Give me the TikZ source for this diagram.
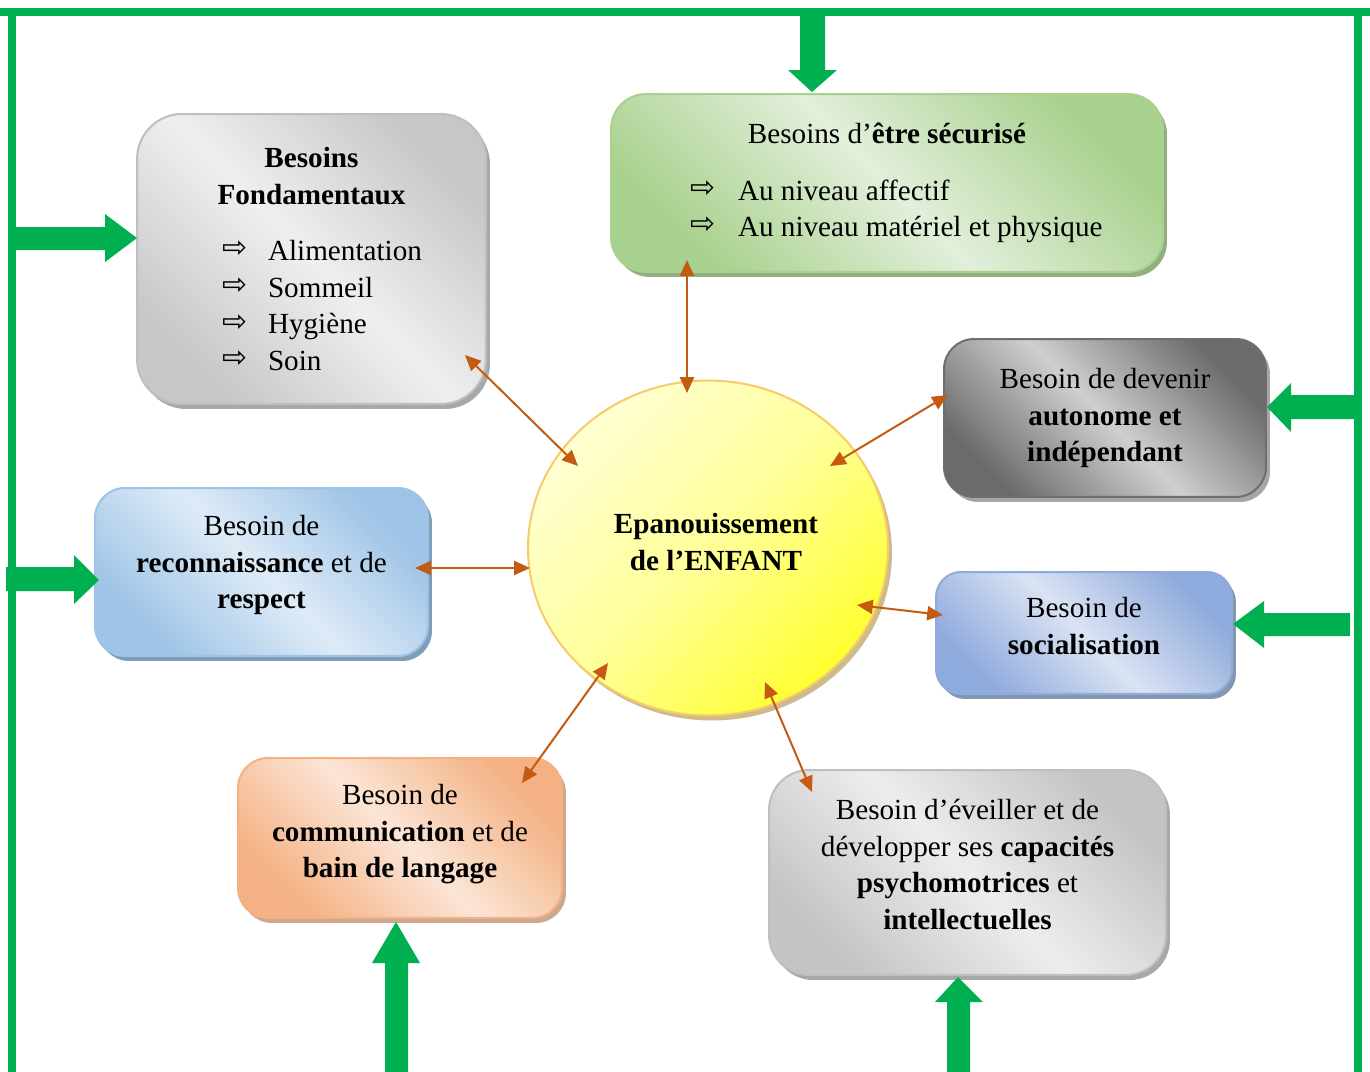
\documentclass[tikz,border=0pt]{standalone}
\usepackage{fontspec}
\setmainfont{Liberation Serif}
\newfontfamily\symfont{DejaVu Sans}
\usetikzlibrary{shapes.geometric,shadows,arrows.meta}
\definecolor{gr}{HTML}{00B050}
\definecolor{rust}{HTML}{C55A11}
\definecolor{fondD}{HTML}{C7C7C7}\definecolor{fondL}{HTML}{EFEFEF}\definecolor{fondB}{HTML}{BFBFBF}\definecolor{fondS}{HTML}{A8A8A8}
\definecolor{secuD}{HTML}{A9D18E}\definecolor{secuL}{HTML}{E2EFDA}\definecolor{secuB}{HTML}{A9D18E}\definecolor{secuS}{HTML}{93AE80}
\definecolor{autoD}{HTML}{6B6B6B}\definecolor{autoL}{HTML}{CFCFCF}\definecolor{autoB}{HTML}{6E6E6E}\definecolor{autoS}{HTML}{A6A6A6}
\definecolor{recoD}{HTML}{9DC3E6}\definecolor{recoL}{HTML}{DEEBF7}\definecolor{recoB}{HTML}{9DC3E6}\definecolor{recoS}{HTML}{7F9DB9}
\definecolor{sociD}{HTML}{8FAADC}\definecolor{sociL}{HTML}{DAE3F3}\definecolor{sociB}{HTML}{8FAADC}\definecolor{sociS}{HTML}{8497B0}
\definecolor{commD}{HTML}{F4B183}\definecolor{commL}{HTML}{FBE5D6}\definecolor{commB}{HTML}{F4B183}\definecolor{commS}{HTML}{CDA890}
\definecolor{eveiD}{HTML}{C4C4C4}\definecolor{eveiL}{HTML}{EDEDED}\definecolor{eveiB}{HTML}{BFBFBF}\definecolor{eveiS}{HTML}{A8A8A8}
\definecolor{cenL}{HTML}{FFFFD2}\definecolor{cenM}{HTML}{FFFF99}\definecolor{cenD}{HTML}{FFFF30}\definecolor{cenB}{HTML}{F8CB6A}\definecolor{cenS}{HTML}{CDBB8A}
\newcommand{\arr}{\raisebox{1.6pt}{\symfont\fontsize{17}{17}\selectfont ⇨}}
\newcommand{\fli}[1]{\makebox[3.58cm][l]{\makebox[0.92cm][l]{\arr}#1}}
\newcommand{\sli}[1]{\makebox[7.88cm][l]{\makebox[0.96cm][l]{\arr}#1}}
\tikzset{
  box/.style={rectangle, inner sep=0pt, align=center,
    font=\fontsize{16.6}{20.8}\selectfont, line width=0.04cm},
  shade3/.style={left color=#1D, right color=#1D, middle color=#1L,
    shading angle=135, draw=#1B,
    drop shadow={shadow xshift=0.08cm, shadow yshift=-0.1cm, fill=#1S, opacity=1}},
  link/.style={rust, line width=0.04cm,
    {Triangle[length=9pt,width=8pt]}-{Triangle[length=9pt,width=8pt]}},
  greenframe/.style={gr, line width=0.16cm},
  garrow/.style={fill=gr},
}
\begin{document}
\begin{tikzpicture}[x=0.02cm,y=-0.02cm]
\useasboundingbox (0,0) rectangle (1370,1072);
\fill[white] (0,0) rectangle (1370,1072);

% frame
\draw[greenframe] (0,12) -- (1370,12);
\draw[greenframe] (12,8) -- (12,1072);
\draw[greenframe] (1358,8) -- (1358,1072);

% boxes
\node[box, shade3=fond,
  minimum width=6.98cm, minimum height=5.8cm, rounded corners=0.9cm]
  (fond) at (311.5,259) {\textbf{Besoins}\\\textbf{Fondamentaux}\\[11.4pt]
  \fli{Alimentation}\\\fli{Sommeil}\\\fli{Hygiène}\\\fli{Soin}};

\node[box, shade3=secu,
  minimum width=11.04cm, minimum height=3.56cm, rounded corners=0.7cm]
  (secu) at (887,183) {Besoins d’\textbf{être sécurisé}\\[11.4pt]
  \sli{Au niveau affectif}\\\sli{Au niveau matériel et physique}};

\node[box, shade3=auto, text depth=3.2pt,
  minimum width=6.44cm, minimum height=3.16cm, rounded corners=0.6cm]
  (auto) at (1105,418) {Besoin de devenir\\\textbf{autonome et}\\\textbf{indépendant}};

\node[box, shade3=reco, text depth=11.5pt,
  minimum width=6.66cm, minimum height=3.36cm, rounded corners=0.6cm]
  (reco) at (261.5,572) {Besoin de\\\textbf{reconnaissance} et de\\\textbf{respect}};

\node[box, shade3=soci, text depth=8pt,
  minimum width=5.92cm, minimum height=2.44cm, rounded corners=0.5cm]
  (soci) at (1084,633) {Besoin de\\\textbf{socialisation}};

\node[box, shade3=comm, text depth=8pt,
  minimum width=6.48cm, minimum height=3.2cm, rounded corners=0.6cm]
  (comm) at (400,838) {Besoin de\\\textbf{communication} et de\\\textbf{bain de langage}};

\node[box, shade3=evei, text depth=9.5pt,
  minimum width=7.94cm, minimum height=4.1cm, rounded corners=0.8cm]
  (evei) at (967.5,872.5) {Besoin d’éveiller et de\\développer ses \textbf{capacités}\\\textbf{psychomotrices} et\\\textbf{intellectuelles}};

% centre
\node[ellipse, inner sep=0pt, align=center, font=\fontsize{16.6}{20.8}\selectfont\bfseries,
  minimum width=7.2cm, minimum height=6.7cm, draw=cenB, line width=0.04cm, text depth=7pt,
  left color=cenL, right color=cenD, middle color=cenM, shading angle=45,
  drop shadow={shadow xshift=0.08cm, shadow yshift=-0.1cm, fill=cenS, opacity=1}]
  (centre) at (708,548) {\hspace*{0.32cm}Epanouissement\\\hspace*{0.32cm}de l’ENFANT};

% green block arrows
\fill[garrow] (12,227) -- (105,227) -- (105,214) -- (137,238) -- (105,262) -- (105,250) -- (12,250) -- cycle;
\fill[garrow] (800,16) -- (825,16) -- (825,70) -- (837,70) -- (812,92) -- (788,70) -- (800,70) -- cycle;
\fill[garrow] (1358,395) -- (1291,395) -- (1291,383) -- (1267,407) -- (1291,432) -- (1291,419) -- (1358,419) -- cycle;
\fill[garrow] (1350,613) -- (1264,613) -- (1264,601) -- (1233,624) -- (1264,648) -- (1264,636) -- (1350,636) -- cycle;
\fill[garrow] (6,567) -- (74,567) -- (74,555) -- (99,580) -- (74,604) -- (74,591) -- (6,591) -- cycle;
\fill[garrow] (385,1072) -- (385,963) -- (372,963) -- (396,922) -- (420,963) -- (408,963) -- (408,1072) -- cycle;
\fill[garrow] (947,1072) -- (947,1002) -- (935,1002) -- (958,977) -- (983,1002) -- (970,1002) -- (970,1072) -- cycle;

% orange links
\coordinate (a1s) at (465,355); \coordinate (a1e) at (578,466);
\coordinate (a2s) at (687,260); \coordinate (a2e) at (687,393);
\coordinate (a3s) at (948,395); \coordinate (a3e) at (830,466);
\coordinate (a4s) at (415,568); \coordinate (a4e) at (530,568);
\coordinate (a5s) at (857,605); \coordinate (a5e) at (943,615);
\coordinate (a6s) at (608,663); \coordinate (a6e) at (522,783);
\coordinate (a7s) at (765,682); \coordinate (a7e) at (812,792);
\draw[link] (a1s) -- (a1e);
\draw[link] (a2s) -- (a2e);
\draw[link] (a3s) -- (a3e);
\draw[link] (a4s) -- (a4e);
\draw[link] (a5s) -- (a5e);
\draw[link] (a6s) -- (a6e);
\draw[link] (a7s) -- (a7e);
\end{tikzpicture}
\end{document}
